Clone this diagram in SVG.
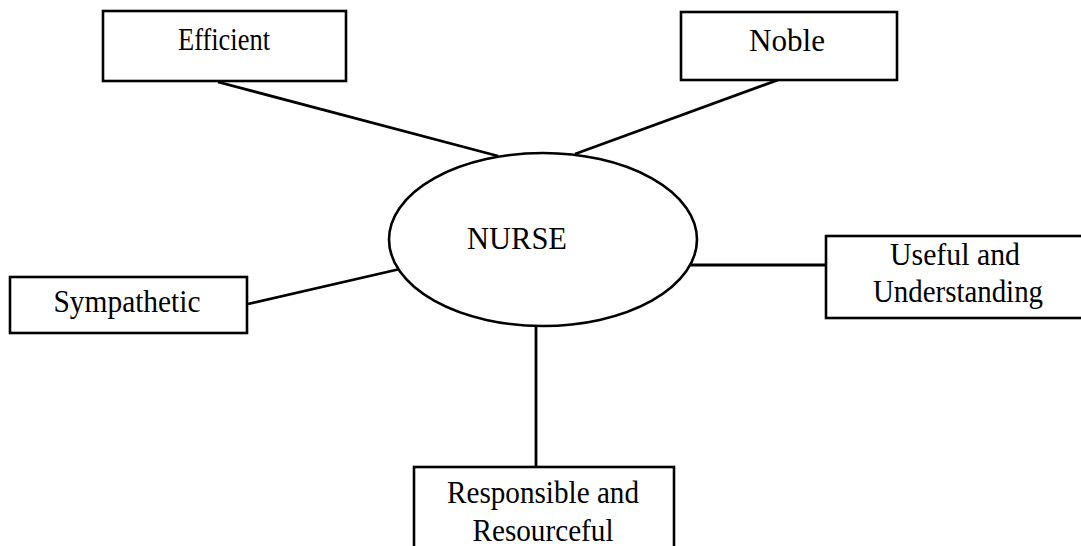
<svg xmlns="http://www.w3.org/2000/svg" width="1081" height="546" viewBox="0 0 1081 546">
<style>
.box{fill:#fff;stroke:#000;stroke-width:2.6}
.ell{fill:#fff;stroke:#000;stroke-width:2.6}
.lnk{stroke:#000;stroke-width:2.8;fill:none}
text{font-family:"Liberation Serif","Times New Roman",serif;font-size:32px;fill:#000;text-anchor:middle}
</style>
<rect width="1081" height="546" fill="#fff"/>
<g id="connectors">
<line class="lnk" x1="218" y1="82" x2="498" y2="156"/>
<line class="lnk" x1="778" y1="80" x2="575" y2="154"/>
<line class="lnk" x1="248" y1="304" x2="400" y2="269"/>
<line class="lnk" x1="690" y1="265" x2="826" y2="265"/>
<line class="lnk" x1="536" y1="326" x2="536" y2="467"/>
</g>
<g id="nurse">
<ellipse class="ell" cx="543" cy="239.5" rx="154" ry="86.5"/>
<text x="517" y="249" textLength="100" lengthAdjust="spacingAndGlyphs">NURSE</text>
</g>
<g id="efficient">
<rect class="box" x="103" y="11" width="243" height="70"/>
<text x="224" y="50" textLength="92" lengthAdjust="spacingAndGlyphs">Efficient</text>
</g>
<g id="noble">
<rect class="box" x="681" y="12" width="216" height="68"/>
<text x="787" y="51" textLength="76" lengthAdjust="spacingAndGlyphs">Noble</text>
</g>
<g id="sympathetic">
<rect class="box" x="10" y="277" width="237" height="56"/>
<text x="127" y="312" textLength="147" lengthAdjust="spacingAndGlyphs">Sympathetic</text>
</g>
<g id="useful">
<rect class="box" x="826" y="236" width="262" height="82"/>
<text x="955" y="265" textLength="130" lengthAdjust="spacingAndGlyphs">Useful and</text>
<text x="958" y="302" textLength="170" lengthAdjust="spacingAndGlyphs">Understanding</text>
</g>
<g id="responsible">
<rect class="box" x="414" y="467" width="260" height="90"/>
<text x="543" y="503" textLength="192" lengthAdjust="spacingAndGlyphs">Responsible and</text>
<text x="543" y="541" textLength="141" lengthAdjust="spacingAndGlyphs">Resourceful</text>
</g>
</svg>
